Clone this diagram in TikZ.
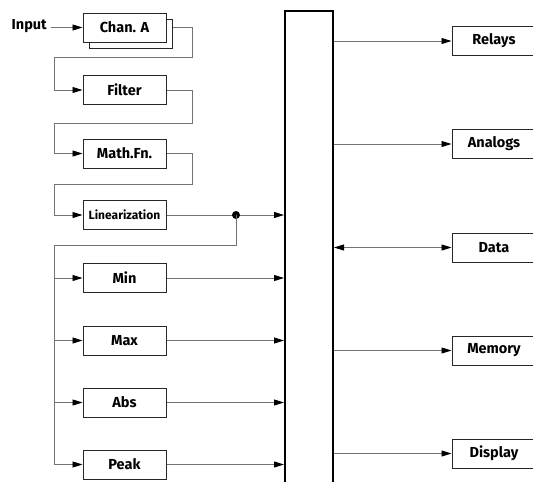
\documentclass[tikz,border=0pt]{standalone}
\usepackage{fontspec}
\setmainfont{Fira Sans}
\usetikzlibrary{arrows.meta}
\begin{document}
\begin{tikzpicture}[x=1pt,y=-1pt,
  blk/.style={draw=black!85, line width=1pt, fill=white, minimum width=83pt, minimum height=29pt, inner sep=0pt, font=\fontsize{14.5}{16}\selectfont\bfseries},
  rblk/.style={blk, minimum width=84pt},
  wire/.style={draw=black!55, line width=0.9pt},
  tip/.tip={Triangle[length=10pt,width=6pt,color=black]},
  arr/.style={wire, -tip},
  darr/.style={wire, tip-tip}]
\useasboundingbox (0,0) rectangle (533,482);
\clip (0,0) rectangle (533,482);
\fill[white] (0,0) rectangle (533,482);
% bus
\node[draw=black, line width=2pt, minimum width=48pt, minimum height=490pt, inner sep=0pt, anchor=north] (bus) at (309,10) {};
% left chain
\node[blk] (chanS) at (131,34) {};
\node[blk] (chan) at (124.5,27.5) {Chan. A};
\node[blk] (filt) at (124.5,90) {Filter};
\node[blk] (math) at (124.5,153.5) {Math.Fn.};
\node[blk, font=\fontsize{12}{14}\selectfont\bfseries] (lin) at (124.5,215) {Linearization};
\node[blk] (min) at (124.5,278) {Min};
\node[blk] (max) at (124.5,340.5) {Max};
\node[blk] (abs) at (124.5,402.5) {Abs};
\node[blk] (peak) at (124.5,464.5) {Peak};
\node[font=\fontsize{14.5}{16}\selectfont\bfseries, inner sep=4pt, anchor=east] (inp) at (51,26) {Input};
% right boxes
\node[rblk] (rel) at (494,41) {Relays};
\node[rblk] (ana) at (494,144) {Analogs};
\node[rblk] (dat) at (494,247.5) {Data};
\node[rblk] (mem) at (494,350.5) {Memory};
\node[rblk] (dis) at (494,453.5) {Display};
% chain connectors
\draw[arr] (inp.east |- chan.west) -- (chan.west);
\draw[arr] (chanS.east |- chan.east) -- (192,27.5) -- (192,57) -- (54.5,57) |- (filt.west);
\draw[arr] (filt.east) -- (192,90) -- (192,123) -- (54.5,123) |- (math.west);
\draw[arr] (math.east) -- (192,153.5) -- (192,184) -- (54.5,184) |- (lin.west);
\draw[arr] (lin.east) -- (bus.west |- lin.east);
\node[circle, fill=black, inner sep=0pt, minimum size=8pt] (dot) at (236,215) {};
\draw[wire] (dot.center) -- (236,245) -- (54.5,245) -- (54.5,464.5);
\foreach \n in {min,max,abs,peak}{
  \draw[arr] (54.5,0 |- \n.west) -- (\n.west);
  \draw[arr] (\n.east) -- (bus.west |- \n.east);
}
% outputs
\draw[arr] (bus.east |- rel.west) -- (rel.west);
\draw[arr] (bus.east |- ana.west) -- (ana.west);
\draw[darr] (bus.east |- dat.west) -- (dat.west);
\draw[arr] (bus.east |- mem.west) -- (mem.west);
\draw[arr] (bus.east |- dis.west) -- (dis.west);
\end{tikzpicture}
\end{document}
